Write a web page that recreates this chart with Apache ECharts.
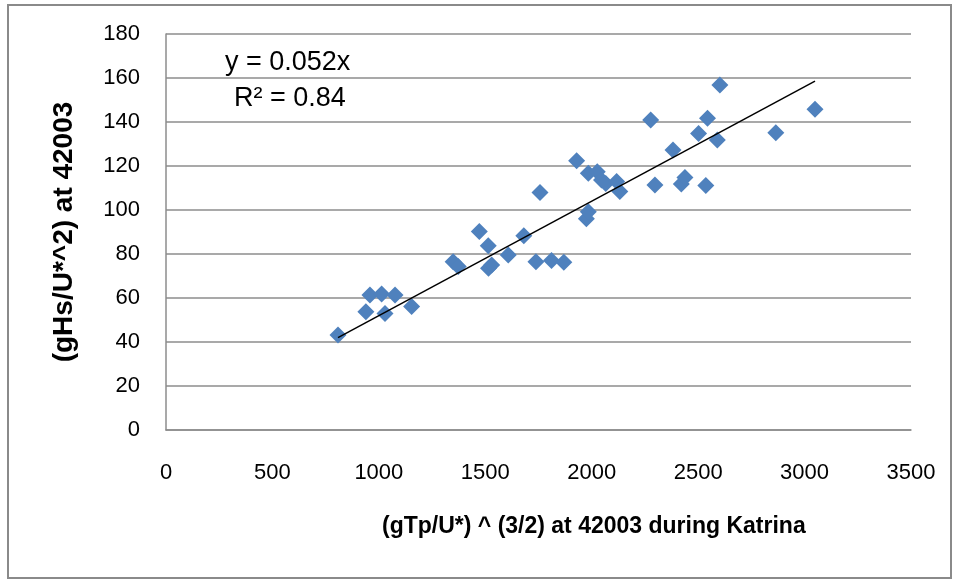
<!DOCTYPE html>
<html>
<head>
<meta charset="utf-8">
<script src="https://cdn.jsdelivr.net/npm/echarts@6/dist/echarts.min.js"></script>
<style>
  html, body { margin: 0; padding: 0; background: #fff; }
  #echart { width: 958px; height: 580px; }
</style>
</head>
<body>
<div id="echart"></div>
<script>
// x values: (gTp/U*)^(3/2), y values: gHs/U*^2
const xValues = [808, 939, 958, 1013, 1029, 1076, 1154, 1349, 1373, 1472, 1514, 1515, 1530,
  1608, 1681, 1738, 1757, 1811, 1869, 1929, 1975, 1984, 1984, 2026, 2046, 2066, 2117, 2132,
  2277, 2297, 2382, 2421, 2438, 2502, 2536, 2544, 2590, 2602, 2865, 3049];
const yValues = [43.2, 53.8, 61.4, 61.8, 53.0, 61.4, 56.1, 76.5, 74.3, 90.2, 83.8, 73.5, 75.0,
  79.5, 88.3, 76.5, 108.0, 77.0, 76.2, 122.4, 96.0, 116.7, 99.2, 117.4, 113.6, 112.1, 112.9, 108.4,
  140.9, 111.4, 127.3, 111.8, 114.8, 134.8, 111.1, 141.7, 131.8, 156.8, 135.1, 145.8];
const slope = 0.052;
const equationLabels = ['y = 0.052x', 'R² = 0.84'];
const xTitle = '(gTp/U*) ^ (3/2) at 42003 during Katrina';
const yTitle = '(gHs/U*^2) at 42003';

const points = xValues.map((x, i) => [x, yValues[i]]);
const xMin = Math.min(...xValues);
const xMax = Math.max(...xValues);
const trend = [[xMin, slope * xMin], [xMax, slope * xMax]];

const chart = echarts.init(document.getElementById('echart'));
const font = "'Liberation Sans', Arial, sans-serif";
const gridColor = '#8c8c8c';

const option = {
  animation: false,
  backgroundColor: '#fff',
  textStyle: { fontFamily: font },
  grid: { left: 166, right: 47, top: 34, bottom: 150 },
  xAxis: {
    type: 'value', min: 0, max: 3500, interval: 500,
    axisLine: { show: true, lineStyle: { color: gridColor, width: 1.5 } },
    axisTick: { show: false },
    splitLine: { show: false },
    axisLabel: { color: '#000', fontSize: 22, margin: 32, fontFamily: font, formatter: v => String(v) }
  },
  yAxis: {
    type: 'value', min: 0, max: 180, interval: 20,
    axisLine: { show: true, lineStyle: { color: gridColor, width: 1.5 } },
    axisTick: { show: false },
    splitLine: { show: true, lineStyle: { color: gridColor, width: 1.5 } },
    axisLabel: { color: '#000', fontSize: 22, margin: 26, fontFamily: font },
    name: yTitle, nameLocation: 'middle', nameGap: 88, nameRotate: 90,
    nameTextStyle: { color: '#000', fontSize: 28, fontWeight: 'bold', fontFamily: font }
  },
  graphic: [
    {
      type: 'rect', shape: { x: 8, y: 5, width: 943, height: 573 },
      style: { fill: 'none', stroke: '#8a8a8a', lineWidth: 2 }, z: -1
    },
    {
      type: 'text', left: 225, top: 49,
      style: { text: equationLabels[0], font: "27px 'Liberation Sans', Arial, sans-serif", fill: '#000' }
    },
    {
      type: 'text', left: 234, top: 85,
      style: { text: equationLabels[1], font: "27px 'Liberation Sans', Arial, sans-serif", fill: '#000' }
    },
    {
      // x axis title sits right of centre in the original
      type: 'text', left: 382, top: 515,
      style: { text: xTitle, font: "bold 23px 'Liberation Sans', Arial, sans-serif", fill: '#000' }
    }
  ],
  series: [
    {
      type: 'scatter',
      data: points,
      symbol: 'diamond',
      symbolSize: [17, 17],
      itemStyle: { color: '#4F81BD', opacity: 1 },
      z: 2
    },
    {
      type: 'line',
      data: trend,
      symbol: 'none',
      lineStyle: { color: '#000', width: 1.5 },
      z: 3
    }
  ]
};

chart.setOption(option);
</script>
</body>
</html>
